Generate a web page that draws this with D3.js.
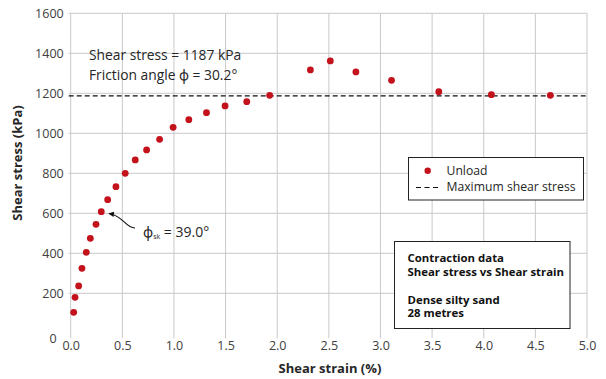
<!DOCTYPE html>
<html>
<head>
<meta charset="utf-8">
<script src="https://cdn.jsdelivr.net/npm/d3@7"></script>
<style>
  html, body { margin: 0; padding: 0; background: #fff; }
  svg { display: block; font-family: "Open Sans", "Noto Sans", sans-serif; }
</style>
</head>
<body>
<svg id="chart" width="606" height="379"></svg>
<script>
// Shear strain (%) and shear stress (kPa) of the unload readings
const strain = [0.029, 0.042, 0.077, 0.109, 0.151, 0.190, 0.245, 0.296, 0.358, 0.438,
                0.528, 0.625, 0.735, 0.861, 0.992, 1.144, 1.315, 1.495, 1.705, 1.927,
                2.321, 2.514, 2.762, 3.107, 3.565, 4.074, 4.645];
const stress = [105, 180, 237, 325, 405, 475, 545, 608, 668, 733,
                800, 867, 917, 970, 1030, 1068, 1103, 1137, 1158, 1190,
                1317, 1362, 1307, 1265, 1208, 1193, 1190];
const maxShearStress = 1187;
const xTicks = [0, 0.5, 1.0, 1.5, 2.0, 2.5, 3.0, 3.5, 4.0, 4.5, 5.0];
const yTicks = [0, 200, 400, 600, 800, 1000, 1200, 1400, 1600];

const svg = d3.select("#chart");
const x = d3.scaleLinear().domain([0, 5]).range([70.7, 587]);
const y = d3.scaleLinear().domain([0, 1600]).range([333.3, 13.3]);
const red = "#c3121b";
const txt = "#262626";

// grid
const grid = svg.append("g").attr("stroke", "#c9c9c9").attr("stroke-width", 1);
grid.selectAll("line.v").data(xTicks).join("line")
  .attr("x1", d => x(d)).attr("x2", d => x(d))
  .attr("y1", y(1600)).attr("y2", y(0) + 5);
grid.selectAll("line.h").data(yTicks.filter(d => d > 0)).join("line")
  .attr("x1", x(0) - 2).attr("x2", x(5))
  .attr("y1", d => y(d)).attr("y2", d => y(d));

// axes (labels only, lines come from the grid)
const xAxis = svg.append("g").attr("transform", `translate(0,${y(0)})`)
  .call(d3.axisBottom(x).tickValues(xTicks).tickFormat(d3.format(".1f")).tickSize(0).tickPadding(8));
const yAxis = svg.append("g").attr("transform", `translate(${x(0)},0)`)
  .call(d3.axisLeft(y).tickValues(yTicks).tickFormat(d3.format("d")).tickSize(0).tickPadding(7));
[xAxis, yAxis].forEach(a => {
  a.select(".domain").remove();
  a.selectAll("text").attr("font-size", 12.5).attr("fill", "#404040")
    .attr("font-family", "'Open Sans', sans-serif");
});
yAxis.selectAll(".tick").filter(d => d === 0).select("text")
  .attr("x", -14).attr("dy", "0.75em");

// axis titles
svg.append("text").attr("x", 330).attr("y", 373).attr("text-anchor", "middle")
  .attr("font-size", 13).attr("font-weight", "bold").attr("fill", txt)
  .text("Shear strain (%)");
svg.append("text").attr("transform", "translate(22,163) rotate(-90)")
  .attr("text-anchor", "middle").attr("font-size", 13).attr("font-weight", "bold").attr("fill", txt)
  .text("Shear stress (kPa)");

// maximum shear stress line
svg.append("line")
  .attr("x1", x(0) - 2).attr("x2", x(5))
  .attr("y1", y(maxShearStress)).attr("y2", y(maxShearStress))
  .attr("stroke", "#111").attr("stroke-width", 1.2).attr("stroke-dasharray", "5,3");

// points
svg.append("g").selectAll("circle").data(strain).join("circle")
  .attr("cx", (d, i) => x(d)).attr("cy", (d, i) => y(stress[i]))
  .attr("r", 3.4).attr("fill", red);

// annotation of the peak
const note = svg.append("g").attr("font-size", 13.8).attr("fill", txt);
note.append("text").attr("x", 89).attr("y", 60).text(`Shear stress = ${maxShearStress} kPa`);
note.append("text").attr("x", 89).attr("y", 80).text("Friction angle ϕ = 30.2°");

// annotation of the initial slope
const phi = svg.append("text").attr("x", 143).attr("y", 237).attr("font-size", 14).attr("fill", txt);
phi.append("tspan").text("ϕ");
phi.append("tspan").attr("font-size", 7).attr("dy", 2).text("sk");
phi.append("tspan").attr("dy", -2).text(" = 39.0°");

svg.append("defs").append("marker").attr("id", "ah")
  .attr("viewBox", "0 0 10 10").attr("refX", 9).attr("refY", 5)
  .attr("markerWidth", 5).attr("markerHeight", 5).attr("orient", "auto")
  .append("path").attr("d", "M0,0 L10,5 L0,10 Z").attr("fill", "#111");
svg.append("path")
  .attr("d", "M135,228 C125,228 124,216 109,213.5")
  .attr("fill", "none").attr("stroke", "#111").attr("stroke-width", 1.1)
  .attr("marker-end", "url(#ah)");

// legend
const lg = svg.append("g");
lg.append("rect").attr("x", 408.5).attr("y", 157.5).attr("width", 175).attr("height", 42.5)
  .attr("fill", "#fff").attr("stroke", "#222").attr("stroke-width", 1);
lg.append("circle").attr("cx", 427.7).attr("cy", 170.7).attr("r", 3.2).attr("fill", red);
lg.append("line").attr("x1", 416).attr("x2", 439).attr("y1", 187.5).attr("y2", 187.5)
  .attr("stroke", "#111").attr("stroke-width", 1.2).attr("stroke-dasharray", "5,3.5");
lg.append("text").attr("x", 446.5).attr("y", 174.5).attr("font-size", 12.2).attr("fill", txt).text("Unload");
lg.append("text").attr("x", 446.5).attr("y", 191).attr("font-size", 12.2).attr("fill", txt).text("Maximum shear stress");

// description box
const db = svg.append("g");
db.append("rect").attr("x", 394.5).attr("y", 241.5).attr("width", 175.5).attr("height", 87)
  .attr("fill", "#fff").attr("stroke", "#222").attr("stroke-width", 1);
const lines = [["Contraction data", 262], ["Shear stress vs Shear strain", 275.5],
               ["Dense silty sand", 303.5], ["28 metres", 317]];
db.selectAll("text").data(lines).join("text")
  .attr("x", 407.5).attr("y", d => d[1]).attr("font-size", 11.4).attr("font-weight", "bold")
  .attr("fill", "#111").text(d => d[0]);
</script>
</body>
</html>
